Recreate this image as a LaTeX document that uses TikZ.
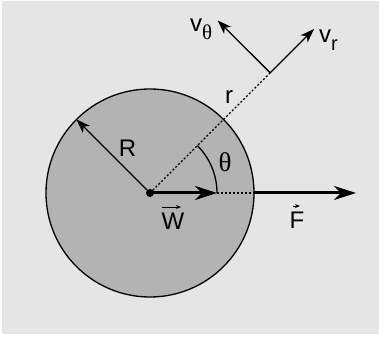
\documentclass[tikz,border=0pt]{standalone}
\usepackage{fontspec}
\setmainfont{Liberation Sans}
\newfontfamily\thfont{Liberation Serif}
\usetikzlibrary{arrows.meta}
\definecolor{bgc}{HTML}{E5E5E5}
\definecolor{diskc}{HTML}{B3B3B3}
\newcommand{\sbs}[2]{\raisebox{-#1}{\fontsize{20}{20}\selectfont #2}}
\begin{document}
\begin{tikzpicture}[x=1pt,y=1pt,
  lbl/.style={inner sep=0pt,font=\fontsize{24}{24}\selectfont},
  thick arrow/.style={line width=3pt,-{Stealth[length=22pt,width=14pt,inset=7pt]}},
  thin arrow/.style={line width=1.3pt,-{Stealth[length=14pt,width=10pt,inset=4pt]}},
  accent arrow/.style={line width=0.9pt,-{Stealth[length=5pt,width=4pt]}},
  dotline/.style={line width=1.3pt,dash pattern=on 2pt off 2pt}]
\useasboundingbox (0,0) rectangle (383,337);
\fill[bgc] (2,3) rectangle (379,336);
\node[circle,draw,fill=diskc,line width=1.3pt,minimum size=208pt,inner sep=0pt] (disk) at (150,144) {};
\coordinate (C) at (150,144);
\coordinate (P) at (270.2,264.2);
\coordinate (Wend) at (217,144);
\coordinate (Edge) at (254,144);
\coordinate (Fend) at (356,144);
\coordinate (Rend) at (76.5,217.5);
\coordinate (VRend) at (314,308);
\coordinate (VTend) at (217.7,316.5);
\draw[dotline] (C) -- (P);
\draw[dotline] (Wend) -- (Edge);
\draw[line width=1.3pt] (Wend) arc[start angle=0,end angle=45,radius=67pt];
\draw[thin arrow] (C) -- (Rend);
\draw[thick arrow] (C) -- (Wend);
\draw[thick arrow] (Edge) -- (Fend);
\draw[thin arrow] (P) -- (VRend);
\draw[thin arrow] (P) -- (VTend);
\fill (C) circle[radius=4pt];
\node[lbl] (Rl) at (127.5,188.5) {R};
\node[lbl,font=\fontsize{27}{27}\thfont] (thl) at (225,174.5) {θ};
\node[lbl] (rl) at (229,239.5) {r};
\node[lbl] (Wl) at (173,115.5) {W};
\node[lbl] (Fl) at (297,116.5) {F};
\draw[accent arrow] ([xshift=-11pt,yshift=6pt]Wl.north) -- ([xshift=8pt,yshift=6pt]Wl.north);
\draw[accent arrow] ([xshift=-4pt,yshift=6pt]Fl.north) -- ([xshift=3pt,yshift=6pt]Fl.north);
\node[lbl,anchor=base west] (vtl) at (190,305) {v\sbs{8pt}{\fontsize{21}{21}\thfont θ}};
\node[lbl,anchor=base west] (vrl) at (319,294) {v\sbs{8pt}{r}};
\end{tikzpicture}
\end{document}
